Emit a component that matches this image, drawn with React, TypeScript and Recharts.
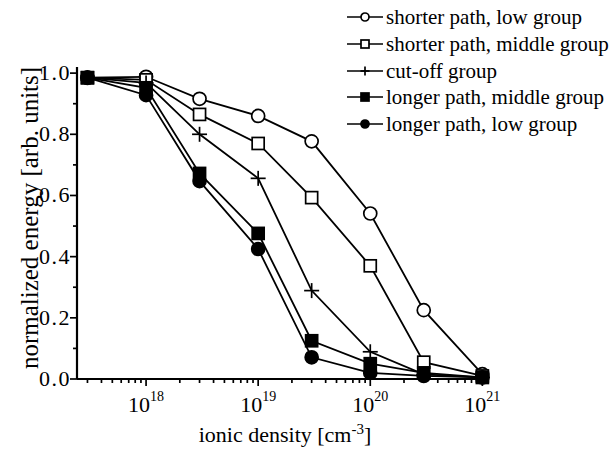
import React from "react";
import { LineChart, Line, XAxis, YAxis } from "recharts";

const densities = [3e17, 1e18, 3e18, 1e19, 3e19, 1e20, 3e20, 1e21];
const shorterLow = [0.985, 0.988, 0.916, 0.86, 0.777, 0.541, 0.225, 0.016];
const shorterMiddle = [0.985, 0.978, 0.865, 0.77, 0.593, 0.37, 0.055, 0.01];
const cutOff = [0.985, 0.968, 0.80, 0.656, 0.289, 0.089, 0.015, 0.005];
const longerMiddle = [0.985, 0.952, 0.672, 0.476, 0.125, 0.05, 0.02, 0.005];
const longerLow = [0.985, 0.928, 0.647, 0.425, 0.071, 0.02, 0.01, 0.005];

const seriesNames = [
  "shorter path, low group",
  "shorter path, middle group",
  "cut-off group",
  "longer path, middle group",
  "longer path, low group",
];
const seriesKeys = ["sl", "sm", "co", "lm", "ll"];
const seriesShapes = ["openCircle", "openSquare", "cross", "filledSquare", "filledCircle"];

const xMajorTicks = [1e18, 1e19, 1e20, 1e21];
const xMinorTicks = [
  3e17, 4e17, 5e17, 6e17, 7e17, 8e17, 9e17,
  2e18, 3e18, 4e18, 5e18, 6e18, 7e18, 8e18, 9e18,
  2e19, 3e19, 4e19, 5e19, 6e19, 7e19, 8e19, 9e19,
  2e20, 3e20, 4e20, 5e20, 6e20, 7e20, 8e20, 9e20,
];
const yTicks = [0, 0.1, 0.2, 0.3, 0.4, 0.5, 0.6, 0.7, 0.8, 0.9, 1.0];

const data = densities.map((x, i) => ({
  x,
  sl: shorterLow[i],
  sm: shorterMiddle[i],
  co: cutOff[i],
  lm: longerMiddle[i],
  ll: longerLow[i],
}));

const FONT = "'Liberation Serif', 'Times New Roman', serif";

function Marker({ shape, cx, cy, s }: { shape: string; cx: number; cy: number; s: number }) {
  const sw = 1.7;
  switch (shape) {
    case "openCircle":
      return <circle cx={cx} cy={cy} r={s} fill="#fff" stroke="#000" strokeWidth={sw} />;
    case "filledCircle":
      return <circle cx={cx} cy={cy} r={s} fill="#000" stroke="#000" strokeWidth={sw} />;
    case "openSquare":
      return <rect x={cx - s} y={cy - s} width={2 * s} height={2 * s} fill="#fff" stroke="#000" strokeWidth={sw} />;
    case "filledSquare":
      return <rect x={cx - s} y={cy - s} width={2 * s} height={2 * s} fill="#000" stroke="#000" strokeWidth={sw} />;
    default:
      return (
        <g stroke="#000" strokeWidth={sw}>
          <line x1={cx - s - 1} x2={cx + s + 1} y1={cy} y2={cy} />
          <line x1={cx} x2={cx} y1={cy - s - 1} y2={cy + s + 1} />
        </g>
      );
  }
}

const makeDot = (shape: string) => (props: any) => {
  const { cx, cy, index } = props;
  if (cx == null || cy == null) return <g key={index} />;
  return <Marker key={index} shape={shape} cx={cx} cy={cy} s={shape.includes("Square") ? 6 : 6.5} />;
};

const XTick = (props: any) => {
  const { x, y, payload } = props;
  const v = payload.value;
  const exp = Math.round(Math.log10(v));
  const major = Math.abs(v - Math.pow(10, exp)) / v < 1e-6;
  return (
    <g>
      <line x1={x} x2={x} y1={y} y2={y + (major ? 7 : 4)} stroke="#000" strokeWidth={1.7} />
      {major && (
        <text x={x} y={y + 33} textAnchor="middle" fontFamily={FONT} fontSize={22} fill="#000">
          <tspan>10</tspan>
          <tspan dy={-11} fontSize={14}>{exp}</tspan>
        </text>
      )}
    </g>
  );
};

const YTick = (props: any) => {
  const { x, y, payload } = props;
  const v = payload.value;
  const major = Math.round(v * 10) % 2 === 0;
  return (
    <g>
      <line x1={x - (major ? 7 : 4)} x2={x} y1={y} y2={y} stroke="#000" strokeWidth={1.7} />
      {major && (
        <text x={x - 6} y={y + 7} textAnchor="end" fontFamily={FONT} fontSize={22} fill="#000" letterSpacing={1.5}>
          {v.toFixed(1)}
        </text>
      )}
    </g>
  );
};

const LegendBox = () => (
  <div style={{ position: "absolute", left: 347, top: 4, fontFamily: FONT, fontSize: 21, color: "#000" }}>
    {seriesNames.map((name, i) => (
      <div key={name} style={{ display: "flex", alignItems: "center", height: 26.7 }}>
        <svg width={38} height={20} style={{ flex: "none" }}>
          <line x1={0} x2={36} y1={10} y2={10} stroke="#000" strokeWidth={1.5} />
          <Marker shape={seriesShapes[i]} cx={18} cy={10} s={seriesShapes[i] === "cross" ? 3.5 : 4} />
        </svg>
        <span style={{ marginLeft: 1, whiteSpace: "nowrap", lineHeight: "22px" }}>{name}</span>
      </div>
    ))}
  </div>
);

export default function App() {
  return (
    <div style={{ position: "absolute", left: 0, top: 0, width: 616, height: 451, background: "#fff" }}>
      <LineChart
        width={616}
        height={451}
        data={data}
        margin={{ top: 67, right: 129, bottom: 0, left: 0 }}
      >
        <XAxis
          dataKey="x"
          type="number"
          scale="log"
          domain={[2.42e17, 1.1e21]}
          ticks={[...xMajorTicks, ...xMinorTicks].sort((a, b) => a - b)}
          interval={0}
          tick={<XTick />}
          tickLine={false}
          tickSize={0}
          tickMargin={0}
          height={72}
          axisLine={{ stroke: "#000", strokeWidth: 2.2 }}
        />
        <YAxis
          type="number"
          domain={[0, 1.02]}
          ticks={yTicks}
          interval={0}
          tick={<YTick />}
          tickLine={false}
          tickSize={0}
          tickMargin={0}
          width={77}
          axisLine={{ stroke: "#000", strokeWidth: 2.2 }}
        />
        {seriesKeys.map((k, i) => (
          <Line
            key={k}
            dataKey={k}
            name={seriesNames[i]}
            stroke="#000"
            strokeWidth={1.8}
            dot={makeDot(seriesShapes[i])}
            activeDot={false}
            isAnimationActive={false}
          />
        ))}
      </LineChart>
      <LegendBox />
      <div
        style={{
          position: "absolute",
          left: 285,
          top: 443,
          transform: "translate(-50%, -80%)",
          fontFamily: FONT,
          fontSize: 22,
          whiteSpace: "nowrap",
          color: "#000",
        }}
      >
        ionic density [cm<sup style={{ fontSize: 15 }}>-3</sup>]
      </div>
      <div
        style={{
          position: "absolute",
          left: 30,
          top: 218,
          transform: "translate(-50%, -50%) rotate(-90deg)",
          fontFamily: FONT,
          fontSize: 25,
          whiteSpace: "nowrap",
          color: "#000",
        }}
      >
        normalized energy [arb. units]
      </div>
    </div>
  );
}
